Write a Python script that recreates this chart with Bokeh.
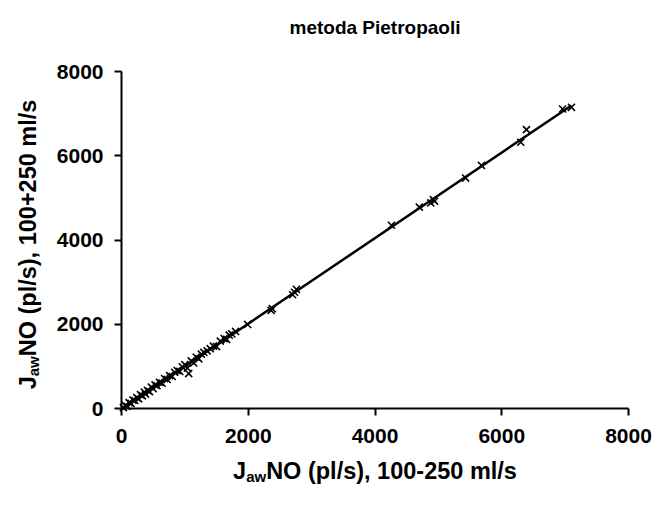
import numpy as np
from bokeh.plotting import figure
from bokeh.models import Range1d, FixedTicker, Label
from bokeh.embed import file_html
from bokeh.resources import INLINE

# ---- data ----
jaw_100_250 = [30, 60, 90, 120, 150, 180, 210, 240, 270, 300, 330, 360, 380, 410, 440,
               470, 500, 530, 560, 600, 640, 680, 720, 760, 800, 840, 880, 920, 960,
               1000, 1040, 1060, 1100, 1140, 1180, 1220, 1260, 1300, 1350, 1400, 1450,
               1500, 1560, 1620, 1660, 1700, 1740, 1800, 1990, 2360, 2380, 2700, 2730,
               2760, 4260, 4700, 4880, 4920, 4940, 5430, 5680, 6300, 6390, 6960, 7100]
jaw_100p250 = [20, 70, 50, 140, 120, 200, 190, 260, 230, 330, 300, 390, 340, 430, 400,
               510, 470, 560, 540, 620, 600, 710, 690, 780, 760, 860, 900, 880, 990,
               1040, 960, 830, 1130, 1080, 1220, 1180, 1290, 1330, 1370, 1420, 1480,
               1470, 1600, 1660, 1640, 1740, 1770, 1830, 1995, 2330, 2370, 2700, 2760,
               2830, 4350, 4780, 4880, 4960, 4920, 5470, 5770, 6320, 6620, 7110, 7150]
tick_values = [0, 2000, 4000, 6000, 8000]
axis_min, axis_max = 0, 8000
title_text = "metoda Pietropaoli"
x_label_parts = ["J", "aw", "NO (pl/s), 100-250 ml/s"]
y_label_parts = ["J", "aw", "NO (pl/s), 100+250 ml/s"]

FONT = "Liberation Sans"
LBL = 23.5
SUB = 15
WIDTH, HEIGHT = 654, 508
# pixel placement of the plotting area (from top-left of canvas)
PX_LEFT, PX_RIGHT, PX_TOP, PX_BOTTOM = 121, 628, 71, 408

# Arial/Liberation Bold advance widths (em)
W = {'J': .556, 'a': .556, 'w': .778, 'N': .722, 'O': .778, ' ': .278, '(': .333,
     'p': .611, 'l': .278, '/': .278, 's': .556, ')': .333, ',': .278, '1': .556,
     '0': .556, '2': .556, '5': .556, '-': .333, '+': .584, 'm': .889}


def tw(s, size):
    return sum(W.get(c, .556) for c in s) * size


kx = (PX_RIGHT - PX_LEFT) / (axis_max - axis_min)
ky = (PX_BOTTOM - PX_TOP) / (axis_max - axis_min)
x_range = Range1d(axis_min - PX_LEFT / kx, axis_min + (WIDTH - PX_LEFT) / kx)
y_range = Range1d(axis_min - (HEIGHT - PX_BOTTOM) / ky, axis_min + PX_BOTTOM / ky)

p = figure(width=WIDTH, height=HEIGHT, output_backend="svg", toolbar_location=None,
           x_range=x_range, y_range=y_range, min_border=0)
p.outline_line_color = None
p.grid.visible = False
p.background_fill_color = "white"
p.border_fill_color = "white"

for ax in (p.xaxis[0], p.yaxis[0]):
    ax.fixed_location = axis_min
    ax.bounds = (axis_min, axis_max)
    ax.ticker = FixedTicker(ticks=tick_values)
    ax.axis_line_width = 2
    ax.axis_line_color = "black"
    ax.major_tick_line_width = 2
    ax.major_tick_line_color = "black"
    ax.major_tick_out = 7
    ax.major_tick_in = 0
    ax.minor_tick_line_color = None
    ax.major_label_text_font = FONT
    ax.major_label_text_font_style = "bold"
    ax.major_label_text_font_size = "21px"
    ax.major_label_text_color = "black"
    ax.axis_label = None
p.xaxis.major_label_standoff = 13
p.yaxis.major_label_standoff = 11

x = np.array(jaw_100_250, dtype=float)
y = np.array(jaw_100p250, dtype=float)
slope, intercept = np.polyfit(x, y, 1)
lx = np.array([0.0, x.max()])
p.line(lx, slope * lx + intercept, line_color="black", line_width=2.5)
p.scatter(x, y, marker="x", size=10, line_color="black", line_width=1.6)


def lab(xs, ys, text, size, **kw):
    p.add_layout(Label(x=xs, y=ys, x_units="screen", y_units="screen", text=text,
                       text_font=FONT, text_font_style="bold", text_font_size=f"{size}px",
                       text_color="black", **kw))


cx = (PX_LEFT + PX_RIGHT) / 2
# title (screen y measured from bottom of canvas)
lab(cx, HEIGHT - 27, title_text, 19, text_align="center", text_baseline="middle")

# x-axis label with subscript
tot = tw(x_label_parts[0], LBL) + tw(x_label_parts[1], SUB) + tw(x_label_parts[2], LBL)
x0 = cx - tot / 2
yb = HEIGHT - 470
lab(x0, yb, x_label_parts[0], LBL, text_align="left", text_baseline="alphabetic")
x1 = x0 + tw(x_label_parts[0], LBL)
lab(x1, yb - 6, x_label_parts[1], SUB, text_align="left", text_baseline="alphabetic")
x2 = x1 + tw(x_label_parts[1], SUB)
lab(x2, yb, x_label_parts[2], LBL, text_align="left", text_baseline="alphabetic")

# y-axis label (rotated) with subscript
tot_y = tw(y_label_parts[0], LBL) + tw(y_label_parts[1], SUB) + tw(y_label_parts[2], LBL)
cy = HEIGHT - 244
ys0 = cy - tot_y / 2
xb = 27
ang = np.pi / 2
lab(xb, ys0, y_label_parts[0], LBL, angle=ang, text_align="left", text_baseline="alphabetic")
ys1 = ys0 + tw(y_label_parts[0], LBL)
lab(xb + 6, ys1, y_label_parts[1], SUB, angle=ang, text_align="left", text_baseline="alphabetic")
ys2 = ys1 + tw(y_label_parts[1], SUB)
lab(xb, ys2, y_label_parts[2], LBL, angle=ang, text_align="left", text_baseline="alphabetic")

open("out.html", "w").write(file_html(p, INLINE))
